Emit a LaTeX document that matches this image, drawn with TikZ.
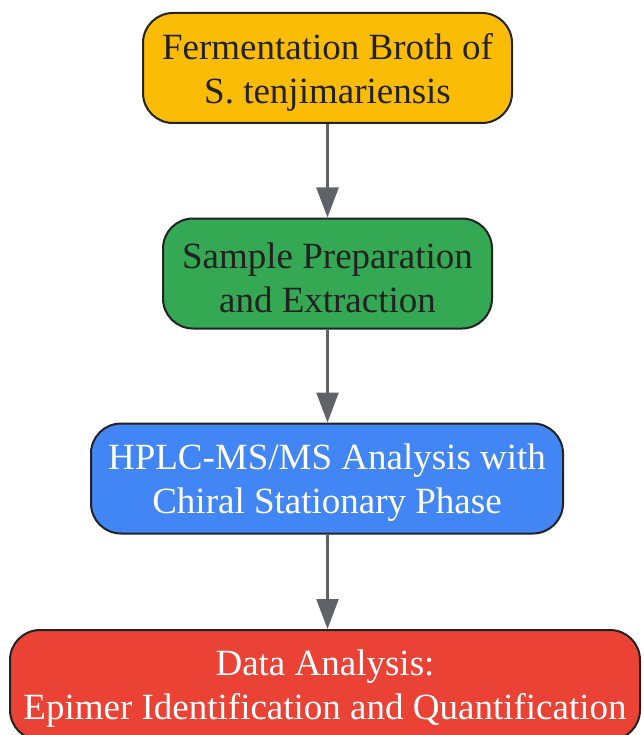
\documentclass[tikz,border=0pt]{standalone}
\usepackage{fontspec}
\setmainfont{Liberation Serif}
\usetikzlibrary{arrows.meta}
\definecolor{cyellow}{HTML}{FBBC05}
\definecolor{cgreen}{HTML}{34A853}
\definecolor{cblue}{HTML}{4285F4}
\definecolor{cred}{HTML}{EA4335}
\definecolor{cborder}{HTML}{222222}
\definecolor{carrow}{HTML}{5F6368}
\definecolor{ctext}{HTML}{222222}
\tikzset{
  stepbox/.style={draw=cborder, line width=2pt, rounded corners=30pt,
    minimum height=110pt, inner sep=0pt},
  steptext/.style={align=center, inner sep=0pt, font=\fontsize{37}{44}\selectfont},
  arr/.style={draw=carrow, line width=2.5pt, -{Triangle[width=22pt,length=30pt]}}
}
\begin{document}
\begin{tikzpicture}[x=1pt,y=1pt]
\useasboundingbox (0,0) rectangle (643,-735);
\begin{scope}
\clip (0,0) rectangle (643,-735);
\node[stepbox, fill=cyellow, minimum width=369pt] (a) at (327.5,-68) {};
\node[steptext, text=ctext] (ta) at ([yshift=-4pt]a.center) {Fermentation Broth of\\S. tenjimariensis};
\node[stepbox, fill=cgreen, minimum width=329pt] (b) at (327.5,-273.5) {};
\node[steptext, text=ctext] (tb) at ([yshift=-4pt]b.center) {Sample Preparation\\and Extraction};
\node[stepbox, fill=cblue, minimum width=472pt] (c) at (327,-478.5) {};
\node[steptext, text=white] (tc) at ([yshift=-4pt]c.center) {HPLC-MS/MS Analysis with\\Chiral Stationary Phase};
\node[stepbox, fill=cred, minimum width=630pt] (d) at (325,-685) {};
\node[steptext, text=white] (td) at ([yshift=-4pt]d.center) {Data Analysis:\\Epimer Identification and Quantification};
\draw[arr] (a.south) -- (a.south |- b.north);
\draw[arr] (b.south) -- (b.south |- c.north);
\draw[arr] (a.south |- c.south) -- (a.south |- d.north);
\end{scope}
\end{tikzpicture}
\end{document}
